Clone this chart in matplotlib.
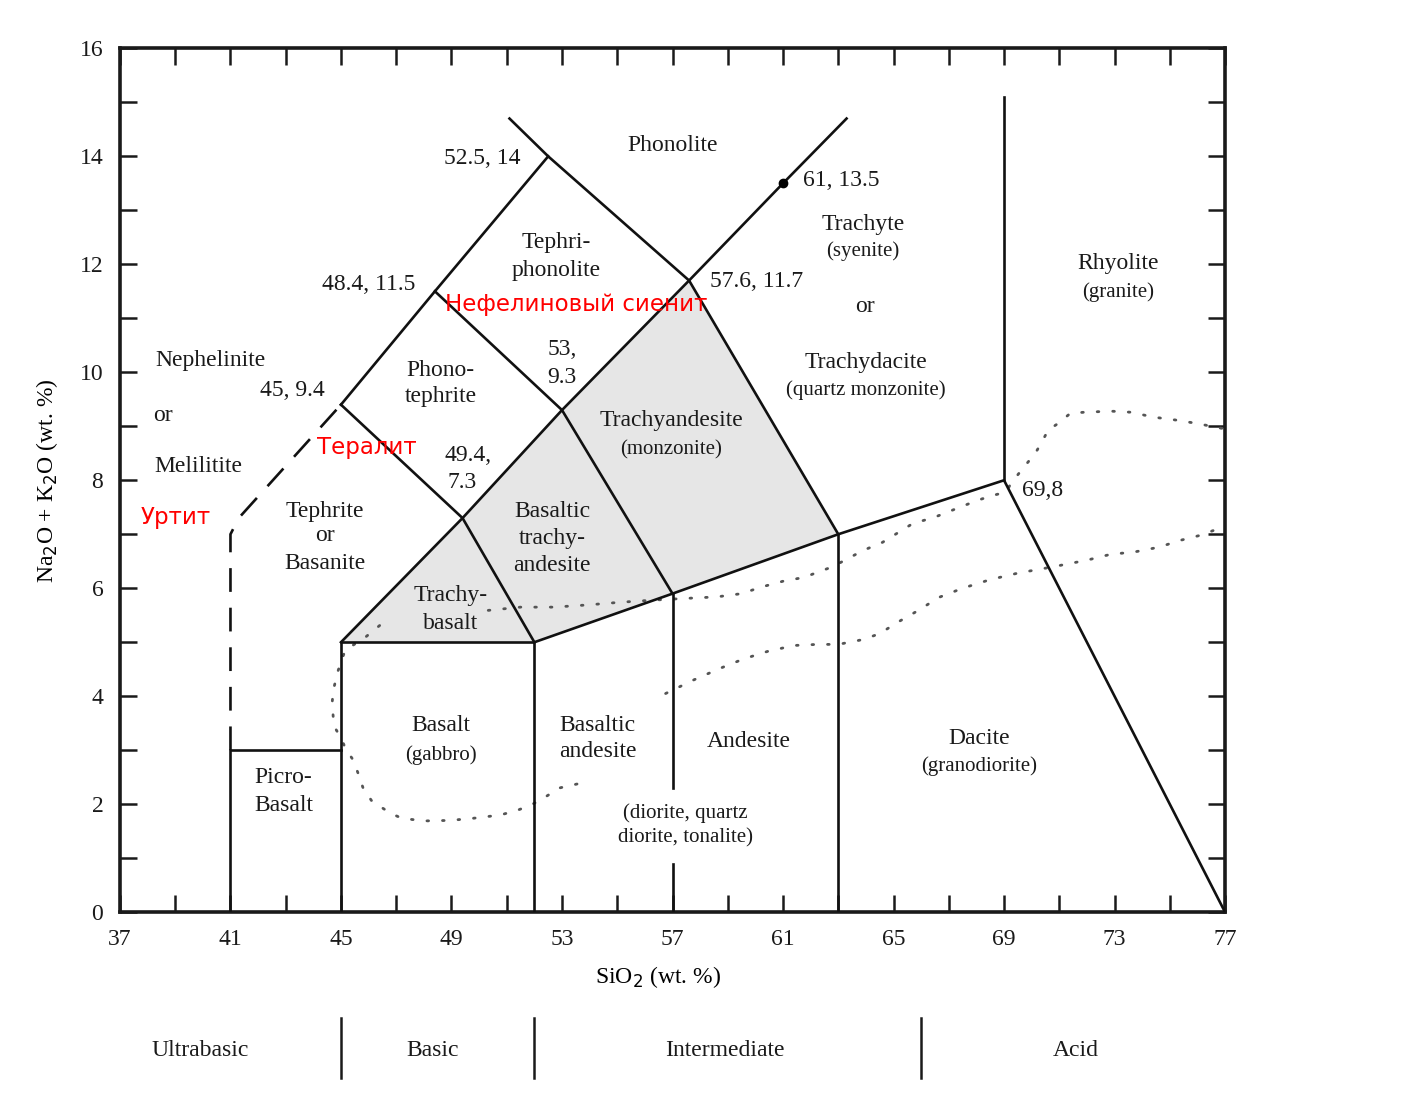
import matplotlib
matplotlib.use("Agg")
import matplotlib.pyplot as plt
from matplotlib.patches import Polygon
from matplotlib.transforms import blended_transform_factory
import numpy as np

# TAS boundary lines (SiO2, Na2O+K2O)
solid_lines = [
    [(41, 0), (41, 3), (45, 3)],
    [(45, 0), (45, 5), (52, 5), (52, 0)],
    [(52, 5), (57, 5.9), (63, 7), (69, 8), (77, 0)],
    [(57, 5.9), (57, 2.3)],
    [(57, 0.9), (57, 0)],
    [(63, 7), (63, 0)],
    [(69, 8), (69, 15.1)],
    [(45, 5), (49.4, 7.3), (53, 9.3), (57.6, 11.7), (61, 13.5), (63.3, 14.7)],
    [(45, 9.4), (48.4, 11.5), (52.5, 14), (57.6, 11.7), (63, 7)],
    [(51.1, 14.7), (52.5, 14)],
    [(45, 9.4), (49.4, 7.3), (52, 5)],
    [(48.4, 11.5), (53, 9.3), (57, 5.9)],
]
dashed_line = [(41, 3), (41, 7), (41.3, 7.3), (45, 9.4)]

shaded = [
    [(45, 5), (49.4, 7.3), (52, 5)],
    [(52, 5), (49.4, 7.3), (53, 9.3), (57, 5.9)],
    [(57, 5.9), (53, 9.3), (57.6, 11.7), (63, 7)],
]

# dotted alkaline / subalkaline curves
curve_a_x = [46.4, 45.9, 45.15, 44.9, 44.72, 44.68, 44.72, 44.79, 45.04, 45.15, 45.4, 45.6,
             45.8, 46.1, 46.5, 46.8, 47.2, 48.0, 48.96, 49.8, 50.77, 51.4, 51.85, 52.2, 52.6,
             52.9, 53.6]
curve_a_y = [5.31, 5.1, 4.85, 4.48, 4.11, 3.87, 3.61, 3.41, 3.19, 3.04, 2.85, 2.6,
             2.3, 2.07, 1.93, 1.83, 1.74, 1.69, 1.70, 1.74, 1.8, 1.89, 1.98, 2.07, 2.2,
             2.3, 2.38]
curve_b_x = [56.75, 57.76, 58.74, 59.57, 60.44, 61.4, 62.25, 63.0, 63.9, 64.5, 65.15, 65.9,
             66.64, 67.5, 68.5, 69.5, 70.7, 72.0, 72.87, 73.7, 74.6, 75.4, 76.1, 76.9, 77.0]
curve_b_y = [4.05, 4.3, 4.52, 4.69, 4.83, 4.94, 4.96, 4.96, 5.05, 5.16, 5.37, 5.59,
             5.83, 6.0, 6.16, 6.28, 6.39, 6.52, 6.63, 6.67, 6.76, 6.89, 6.98, 7.13, 7.15]
curve_c_x = [50.33, 51.5, 52.7, 53.9, 55.1, 56.3, 57.4, 58.6, 59.5, 60.2, 61.0, 61.75,
             62.8, 63.9, 64.6, 65.7, 66.46, 67.25, 68.05, 68.6, 69.07, 69.25, 69.68, 69.97,
             70.2, 70.4, 70.6, 70.95, 71.4, 71.9, 72.87, 73.6, 74.4, 75.3, 76.0, 76.7, 77.0]
curve_c_y = [5.59, 5.65, 5.65, 5.69, 5.74, 5.78, 5.81, 5.84, 5.9, 6.02, 6.13, 6.2,
             6.4, 6.7, 6.85, 7.2, 7.31, 7.47, 7.63, 7.72, 7.78, 7.94, 8.22, 8.4,
             8.56, 8.74, 8.93, 9.05, 9.24, 9.26, 9.28, 9.26, 9.17, 9.11, 9.05, 8.98, 8.95]

# labels: (text, x, y, size)
labels = [
    ("Phonolite", 57.0, 14.2, 17), ("52.5, 14", 50.1, 13.96, 17),
    ("61, 13.5", 63.1, 13.56, 17), ("Trachyte", 63.9, 12.74, 17),
    ("(syenite)", 63.9, 12.24, 15), ("or", 63.96, 11.22, 17),
    ("Trachydacite", 64.0, 10.19, 17), ("(quartz monzonite)", 64.0, 9.67, 15),
    ("Tephri-", 52.8, 12.4, 17), ("phonolite", 52.8, 11.89, 17),
    ("48.4, 11.5", 46.0, 11.63, 17), ("57.6, 11.7", 60.04, 11.69, 17),
    ("Rhyolite", 73.12, 12.02, 17), ("(granite)", 73.12, 11.48, 15),
    ("Nephelinite", 40.26, 10.22, 17), ("or", 38.56, 9.2, 17),
    ("Melilitite", 39.83, 8.26, 17), ("45, 9.4", 43.23, 9.67, 17),
    ("53,", 53.0, 10.43, 17), ("9.3", 53.0, 9.9, 17),
    ("Phono-", 48.6, 10.04, 17), ("tephrite", 48.6, 9.56, 17),
    ("Trachyandesite", 56.96, 9.11, 17), ("(monzonite)", 56.96, 8.57, 15),
    ("49.4,", 49.6, 8.46, 17), ("7.3", 49.4, 7.96, 17),
    ("Tephrite", 44.43, 7.43, 17), ("or", 44.43, 6.97, 17), ("Basanite", 44.43, 6.46, 17),
    ("Basaltic", 52.65, 7.43, 17), ("trachy-", 52.65, 6.92, 17), ("andesite", 52.65, 6.43, 17),
    ("69,8", 70.4, 7.81, 17), ("Trachy-", 48.96, 5.87, 17), ("basalt", 48.96, 5.35, 17),
    ("Basalt", 48.6, 3.46, 17), ("(gabbro)", 48.6, 2.91, 15),
    ("Basaltic", 54.3, 3.46, 17), ("andesite", 54.3, 2.98, 17),
    ("Andesite", 59.75, 3.17, 17), ("Dacite", 68.1, 3.22, 17),
    ("(granodiorite)", 68.1, 2.7, 15), ("Picro-", 42.9, 2.5, 17), ("Basalt", 42.95, 1.98, 17),
    ("(diorite, quartz", 57.47, 1.83, 15), ("diorite, tonalite)", 57.47, 1.37, 15),
]
red_labels = [("Нефелиновый сиенит", 53.5, 11.26), ("Тералит", 45.95, 8.61),
              ("Уртит", 39.03, 7.31)]

groups = ["Ultrabasic", "Basic", "Intermediate", "Acid"]
group_x = [39.9, 48.3, 58.9, 71.6]
group_bounds = [45, 52, 66]

plt.rcParams['font.family'] = ['Liberation Serif', 'DejaVu Serif']

fig = plt.figure(figsize=(14.23, 10.99), dpi=100)
ax = fig.add_axes([0.0843, 0.170, 0.7766, 0.786])

for poly in shaded:
    ax.add_patch(Polygon(poly, closed=True, facecolor='#e6e6e6', edgecolor='none', zorder=1))

for seg in solid_lines:
    xs, ys = zip(*seg)
    ax.plot(xs, ys, color='#111111', lw=1.9, zorder=3, solid_joinstyle='miter')
xs, ys = zip(*dashed_line)
ax.plot(xs, ys, color='#111111', lw=1.9, dashes=(9, 6), dash_capstyle='butt', zorder=3)

for cx, cy in [(curve_a_x, curve_a_y), (curve_b_x, curve_b_y), (curve_c_x, curve_c_y)]:
    ax.plot(cx, cy, color='#555555', lw=2.0, linestyle=(0, (0.6, 5)), dash_capstyle='round',
            zorder=2, clip_on=True)

ax.plot([61], [13.5], 'o', color='black', ms=6, zorder=4)

for t, x, y, s in labels:
    ax.text(x, y, t, ha='center', va='center', fontsize=s, color='#1a1a1a', zorder=5)
for t, x, y in red_labels:
    ax.text(x, y, t, ha='center', va='center', fontsize=16.5, color='red',
            family=['DejaVu Sans'], zorder=6)

ax.set_xlim(37, 77)
ax.set_ylim(0, 16)
ax.set_xticks(np.arange(37, 78, 4))
ax.set_xticks(np.arange(37, 78, 2), minor=True)
ax.set_yticks(np.arange(0, 17, 2))
ax.set_yticks(np.arange(0, 17, 1), minor=True)
ax.tick_params(which='both', direction='in', length=12, width=1.8, top=True, right=True,
               labelsize=17, colors='#1a1a1a', pad=12)
for sp in ax.spines.values():
    sp.set_linewidth(2.6)
    sp.set_color('#1a1a1a')

ax.set_xlabel('SiO$_2$ (wt. %)', fontsize=17)
ax.xaxis.set_label_coords(0.487, -0.06)
ax.set_ylabel('Na$_2$O + K$_2$O (wt. %)', fontsize=17)
ax.yaxis.set_label_coords(-0.054, 0.5)

trans = blended_transform_factory(ax.transData, fig.transFigure)
for name, gx in zip(groups, group_x):
    ax.text(gx, 1 - 1050 / 1099, name, transform=trans, ha='center', va='center',
            fontsize=17, color='#1a1a1a')
for bx in group_bounds:
    ax.plot([bx, bx], [1 - 1018 / 1099, 1 - 1078 / 1099], transform=trans, color='#1a1a1a',
            lw=1.8, clip_on=False)

fig.savefig('out.png', dpi=100)
